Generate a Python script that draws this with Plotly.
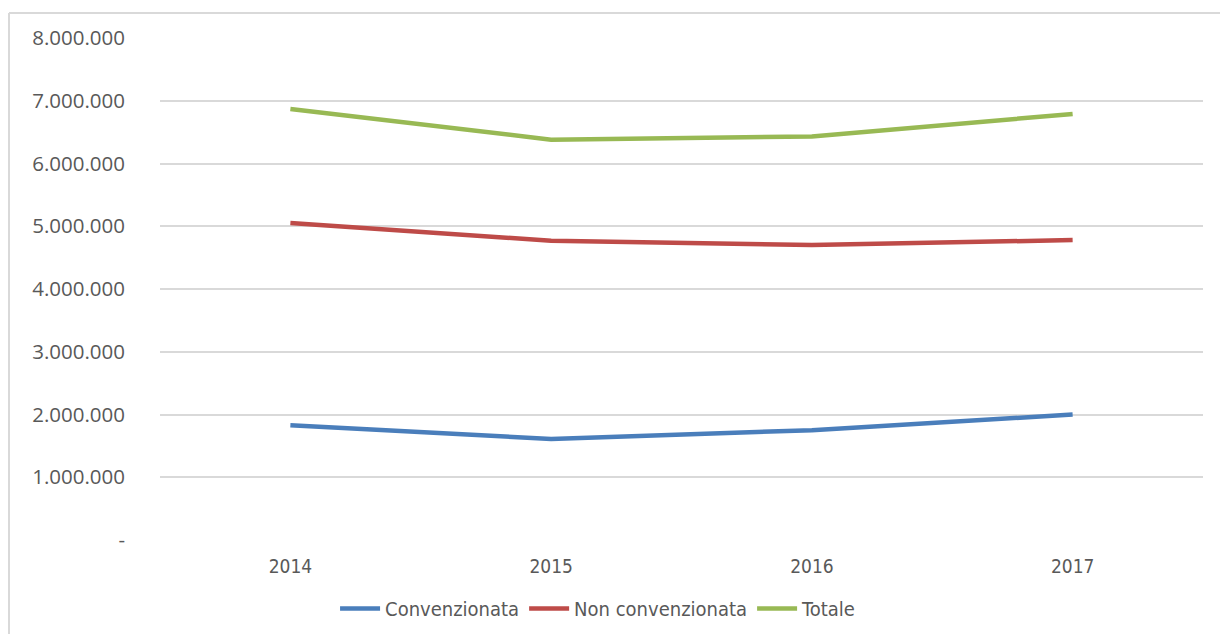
import plotly.graph_objects as go

years = ["2014", "2015", "2016", "2017"]
convenzionata = [1830000, 1610000, 1750000, 2000000]
non_convenzionata = [5050000, 4770000, 4700000, 4780000]
totale = [6870000, 6380000, 6430000, 6790000]

y_ticks = [0, 1000000, 2000000, 3000000, 4000000, 5000000, 6000000, 7000000, 8000000]
y_labels = ["-", "1.000.000", "2.000.000", "3.000.000", "4.000.000", "5.000.000",
            "6.000.000", "7.000.000", "8.000.000"]

series = [
    ("Convenzionata", convenzionata, "#4a7ebb"),
    ("Non convenzionata", non_convenzionata, "#be4b48"),
    ("Totale", totale, "#98b954"),
]

fig = go.Figure()
for name, vals, color in series:
    fig.add_trace(go.Scatter(x=years, y=vals, name=name, mode="lines",
                             line=dict(color=color, width=4.5)))

W, H = 1220, 634
L, R, T, B = 160, 17, 38, 94
pw, ph = W - L - R, H - T - B

def px(x):
    return (x - L) / pw

def py(y):
    return (H - B - y) / ph

border = dict(color="#d9d9d9", width=2)
fig.add_shape(type="line", xref="paper", yref="paper",
              x0=px(9), x1=px(1222), y0=py(13), y1=py(13), line=border)
fig.add_shape(type="line", xref="paper", yref="paper",
              x0=px(9), x1=px(9), y0=py(13), y1=py(636), line=border)

narrow = "DejaVu Sans Condensed, Liberation Sans Narrow, Arial Narrow, sans-serif"

fig.update_layout(
    width=W, height=H,
    margin=dict(l=L, r=R, t=T, b=B, autoexpand=False),
    paper_bgcolor="white", plot_bgcolor="white",
    font=dict(family=narrow, color="#595959", size=19),
    xaxis=dict(type="category", range=[-0.5, 3.5], showgrid=False, zeroline=False,
               showline=False, ticks="", tickfont=dict(family=narrow, size=19),
               ticklabelstandoff=13, automargin=False),
    yaxis=dict(range=[0, 8000000], tickvals=y_ticks, ticktext=y_labels,
               showgrid=True, gridcolor="#d9d9d9", gridwidth=1.5, zeroline=False,
               showline=False, ticks="", automargin=False,
               tickfont=dict(family="Open Sans, DejaVu Sans, sans-serif", size=20.5),
               ticklabelstandoff=34),
    legend=dict(orientation="h", x=0.42, xanchor="center", y=py(589), yanchor="top",
                font=dict(family=narrow, size=20), itemwidth=40, tracegroupgap=0),
    showlegend=True,
)

post = """
document.documentElement.style.cssText='margin:0;padding:0;height:634px;overflow:hidden';
document.body.style.cssText='margin:0;padding:0;height:634px;overflow:hidden';
"""

fig.write_html("out.html", post_script=post, config={"displayModeBar": False})
